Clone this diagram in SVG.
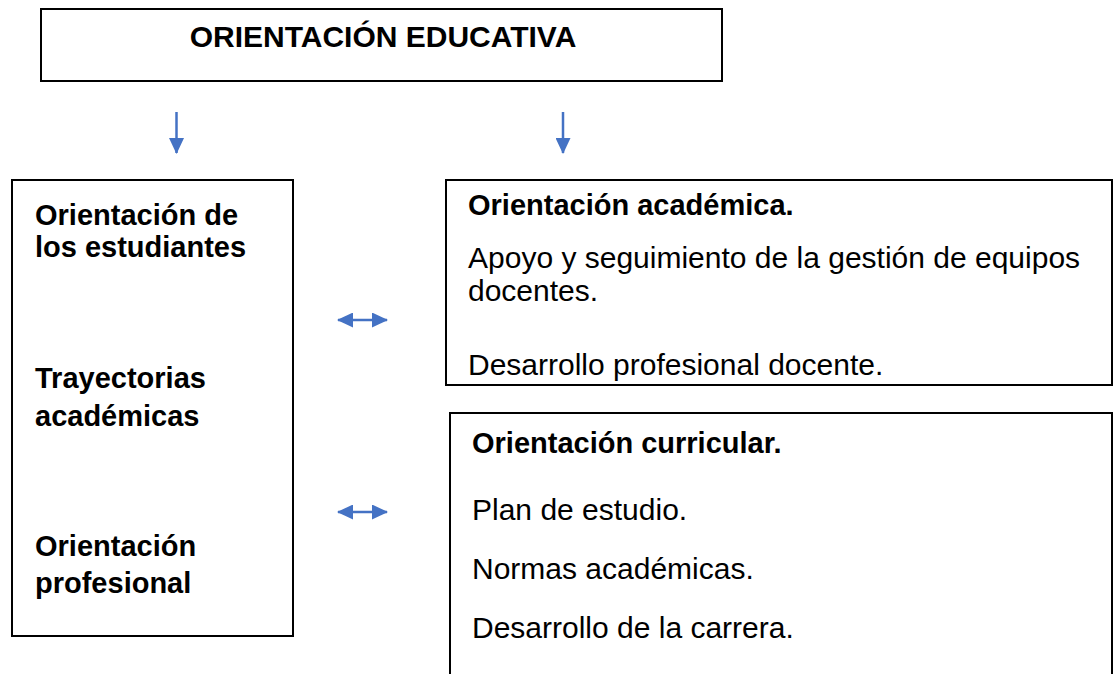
<svg xmlns="http://www.w3.org/2000/svg" width="1113" height="674" viewBox="0 0 1113 674">
<style>
.box{fill:#fff;stroke:#000;stroke-width:2}
.b{font-family:"Liberation Sans",Arial,sans-serif;font-weight:bold;font-size:29px;fill:#000}
.t{font-family:"Liberation Sans",Arial,sans-serif;font-weight:bold;font-size:30px;fill:#000}
.r{font-family:"Liberation Sans",Arial,sans-serif;font-size:30px;fill:#000}
.c{stroke:#4472C4;stroke-width:2.5;fill:none}
</style>
<defs>
<marker id="ah" viewBox="0 0 16 15" refX="15" refY="7.5" markerWidth="16" markerHeight="15" markerUnits="userSpaceOnUse" orient="auto-start-reverse">
<path d="M0,0 L16,7.5 L0,15 Z" fill="#4472C4"/>
</marker>
</defs>
<rect width="1113" height="674" fill="#fff"/>
<g id="top">
<rect class="box" x="41" y="9" width="681" height="72"/>
<text class="t" x="383" y="47" text-anchor="middle">ORIENTACIÓN EDUCATIVA</text>
</g>
<g id="left">
<rect class="box" x="12" y="180" width="281" height="456"/>
<text class="b" x="35" y="225">Orientación de</text>
<text class="b" x="35" y="257">los estudiantes</text>
<text class="b" x="35" y="388">Trayectorias</text>
<text class="b" x="35" y="426">académicas</text>
<text class="b" x="35" y="556">Orientación</text>
<text class="b" x="35" y="593">profesional</text>
</g>
<g id="academica">
<rect class="box" x="446" y="180" width="666" height="205"/>
<text class="b" x="468" y="215">Orientación académica.</text>
<text class="r" x="468" y="268">Apoyo y seguimiento de la gestión de equipos</text>
<text class="r" x="468" y="301">docentes.</text>
<text class="r" x="468" y="375">Desarrollo profesional docente.</text>
</g>
<g id="curricular">
<path class="box" d="M450,680 V413 H1112 V680"/>
<text class="b" x="472" y="453">Orientación curricular.</text>
<text class="r" x="472" y="520">Plan de estudio.</text>
<text class="r" x="472" y="579">Normas académicas.</text>
<text class="r" x="472" y="638">Desarrollo de la carrera.</text>
</g>
<g id="connectors">
<line class="c" x1="176.5" y1="112" x2="176.5" y2="153" marker-end="url(#ah)"/>
<line class="c" x1="563" y1="112" x2="563" y2="153" marker-end="url(#ah)"/>
<line class="c" x1="338" y1="320" x2="387" y2="320" marker-start="url(#ah)" marker-end="url(#ah)"/>
<line class="c" x1="338" y1="512" x2="387" y2="512" marker-start="url(#ah)" marker-end="url(#ah)"/>
</g>
</svg>
